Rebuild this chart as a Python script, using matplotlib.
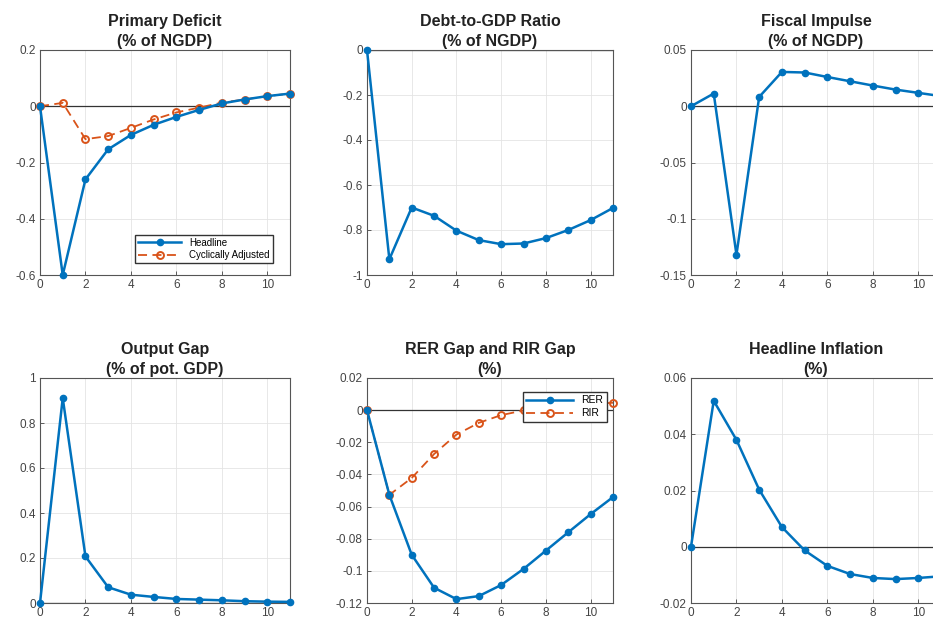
import matplotlib
matplotlib.use("Agg")
import matplotlib.pyplot as plt
from matplotlib.ticker import FuncFormatter, FixedLocator
import numpy as np

# ── Data ─────────────────────────────────────────────────────────────────────
periods = np.arange(12)

pd_headline = [0.0, -0.60, -0.26, -0.153, -0.102, -0.066, -0.038, -0.013, 0.010, 0.024, 0.036, 0.045]
pd_cyc_adj  = [0.0, 0.012, -0.117, -0.106, -0.077, -0.047, -0.022, -0.005, 0.013, 0.024, 0.036, 0.045]

debt_gdp = [0.0, -0.93, -0.70, -0.737, -0.803, -0.845, -0.863, -0.860, -0.836, -0.800, -0.756, -0.702]

fiscal_imp = [0.0, 0.0113, -0.132, 0.0083, 0.0305, 0.0300, 0.0260, 0.0222, 0.0184, 0.0148, 0.0119, 0.0090]

output_gap = [0.0, 0.911, 0.207, 0.070, 0.037, 0.027, 0.018, 0.015, 0.012, 0.008, 0.006, 0.005]

rer_gap = [0.0, -0.0527, -0.0900, -0.1105, -0.1176, -0.1157, -0.1088, -0.0988, -0.0874, -0.0760, -0.0647, -0.0541]
rir_gap = [0.0, -0.0527, -0.0422, -0.0273, -0.0152, -0.0079, -0.0031, -0.0002, 0.0015, 0.0028, 0.0038, 0.0046]

inflation = [0.0, 0.0519, 0.0380, 0.0203, 0.0070, -0.0013, -0.0068, -0.0097, -0.0111, -0.0115, -0.0111, -0.0105]

titles = [
    "Primary Deficit\n(% of NGDP)",
    "Debt-to-GDP Ratio\n(% of NGDP)",
    "Fiscal Impulse\n(% of NGDP)",
    "Output Gap\n(% of pot. GDP)",
    "RER Gap and RIR Gap\n(%)",
    "Headline Inflation\n(%)",
]
yticks = [
    [-0.6, -0.4, -0.2, 0, 0.2],
    [-1, -0.8, -0.6, -0.4, -0.2, 0],
    [-0.15, -0.1, -0.05, 0, 0.05],
    [0, 0.2, 0.4, 0.6, 0.8, 1],
    [-0.12, -0.1, -0.08, -0.06, -0.04, -0.02, 0, 0.02],
    [-0.02, 0, 0.02, 0.04, 0.06],
]
xticks = [0, 2, 4, 6, 8, 10]

# ── Style (MATLAB-like) ──────────────────────────────────────────────────────
BLUE = "#0072BD"
ORANGE = "#D95319"
plt.rcParams["font.family"] = ["Liberation Sans", "DejaVu Sans"]
plt.rcParams["axes.unicode_minus"] = False

fig = plt.figure(figsize=(9.33, 6.22), dpi=100, facecolor="white")
W, H = 933, 622

# axes boxes in pixels: (left, top, right, bottom)
boxes = [
    (40, 50, 290, 275), (367, 50, 613, 275), (691, 50, 941, 275),
    (40, 378, 290, 603), (367, 378, 613, 603), (691, 378, 941, 603),
]
axes = []
for (l, t, r, b) in boxes:
    ax = fig.add_axes([l / W, (H - b) / H, (r - l) / W, (b - t) / H])
    axes.append(ax)


def style(ax, title, yt):
    ax.set_xlim(0, 11)
    ax.set_ylim(yt[0], yt[-1])
    ax.xaxis.set_major_locator(FixedLocator(xticks))
    ax.yaxis.set_major_locator(FixedLocator(yt))
    ax.yaxis.set_major_formatter(FuncFormatter(lambda v, p: f"{v:g}"))
    ax.tick_params(direction="in", length=3, width=0.6, labelsize=8.5,
                   colors="#444444", labelcolor="#444444", pad=3,
                   top=False, right=False)
    ax.grid(True, color="#e4e4e4", lw=0.6)
    ax.set_axisbelow(True)
    for sp in ax.spines.values():
        sp.set_color("#555555")
        sp.set_linewidth(0.8)
    ax.axhline(0, color="#333333", lw=0.9, zorder=2)
    ax.set_title(title, fontsize=11.5, fontweight="bold", color="#222222",
                 pad=3, linespacing=1.4)


def blue_line(ax, y, label=None):
    ax.plot(periods, y, color=BLUE, lw=1.8, marker="o", ms=4.5,
            mfc=BLUE, mec=BLUE, label=label, zorder=4, clip_on=False)


def orange_line(ax, y, label=None):
    ax.plot(periods, y, color=ORANGE, lw=1.3, ls=(0, (5, 3)), marker="o", ms=5,
            mfc="none", mec=ORANGE, mew=1.4, label=label, zorder=3,
            clip_on=False)


# Primary deficit
ax = axes[0]
style(ax, titles[0], yticks[0])
blue_line(ax, pd_headline, "Headline")
orange_line(ax, pd_cyc_adj, "Cyclically Adjusted")
ax.legend(loc="lower right", bbox_to_anchor=(0.95, 0.03), fontsize=7,
          fancybox=False, edgecolor="#333333", framealpha=1,
          handlelength=4.5, borderpad=0.3, labelspacing=0.3)

# Debt-to-GDP
ax = axes[1]
style(ax, titles[1], yticks[1])
blue_line(ax, debt_gdp)

# Fiscal impulse
ax = axes[2]
style(ax, titles[2], yticks[2])
blue_line(ax, fiscal_imp)

# Output gap
ax = axes[3]
style(ax, titles[3], yticks[3])
blue_line(ax, output_gap)

# RER / RIR gap
ax = axes[4]
style(ax, titles[4], yticks[4])
orange_line(ax, rir_gap, None)
blue_line(ax, rer_gap, None)
h1, = ax.plot([], [], color=BLUE, lw=1.8, marker="o", ms=4.5, label="RER")
h2, = ax.plot([], [], color=ORANGE, lw=1.3, ls=(0, (5, 3)), marker="o", ms=5,
              mfc="none", mew=1.4, label="RIR")
leg = ax.legend(handles=[h1, h2], loc="upper right", bbox_to_anchor=(0.995, 0.96),
                fontsize=7.5, fancybox=False, edgecolor="#333333", framealpha=1,
                handlelength=4.5, borderpad=0.3, labelspacing=0.3)
leg.set_zorder(5)

# Headline inflation
ax = axes[5]
style(ax, titles[5], yticks[5])
blue_line(ax, inflation)

fig.savefig("out.png", dpi=100, facecolor="white")
plt.close(fig)
